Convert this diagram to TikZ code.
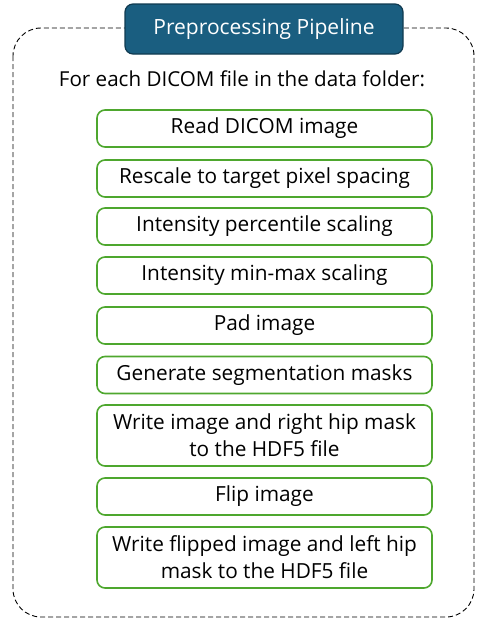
\documentclass[tikz,border=0pt]{standalone}
\usepackage{fontspec}
\setmainfont{Open Sans}
\usetikzlibrary{positioning}

\definecolor{titleblue}{RGB}{26,94,128}
\definecolor{titleedge}{RGB}{16,58,80}
\definecolor{stepgreen}{RGB}{78,167,46}

\begin{document}
\begin{tikzpicture}[x=1pt,y=-1pt]
		
		\useasboundingbox (0,0) rectangle (483,624);
		
		\tikzset{FrameStyle/.style = {draw, line width = 0.9pt, dash pattern = on 5pt off 3pt, rounded corners = 28pt}}
		\tikzset{TitleStyle/.style = {draw = titleedge, fill = titleblue, line width = 1.2pt, rounded corners = 8pt, text = white, minimum width = 278pt, minimum height = 50pt, inner sep = 0pt, font = \fontsize{21}{24}\selectfont}}
		\tikzset{StepStyle/.style = {draw = stepgreen, line width = 1.6pt, rounded corners = 8pt, minimum width = 335pt, minimum height = 37pt, inner sep = 0pt, align = center, font = \fontsize{20.8}{27}\selectfont}}
		
		\draw[FrameStyle] (13,28) rectangle (474,617);
		\node[TitleStyle] (title) at (264,29) {Preprocessing Pipeline};
		\node[font = \fontsize{20.6}{24}\selectfont] (intro) at (242,79) {For each DICOM file in the data folder:};
		
		% steps of the loop body
		\node[StepStyle] (read) at (264.5,128.5) {Read DICOM image};
		\node[StepStyle] (rescale) at (264.5,178.5) {Rescale to target pixel spacing};
		\node[StepStyle] (perc) at (264.5,226.5) {Intensity percentile scaling};
		\node[StepStyle] (minmax) at (264.5,275.5) {Intensity min-max scaling};
		\node[StepStyle] (pad) at (264.5,325.5) {Pad image};
		\node[StepStyle] (masks) at (264.5,375) {Generate segmentation masks};
		\node[StepStyle, minimum height = 61pt] (writeR) at (264.5,435.5) {Write image and right hip mask\\to the HDF5 file};
		\node[StepStyle] (flip) at (264.5,496.5) {Flip image};
		\node[StepStyle, minimum height = 61pt] (writeL) at (264.5,557.5) {Write flipped image and left hip\\mask to the HDF5 file};
		
		\end{tikzpicture}
\end{document}
